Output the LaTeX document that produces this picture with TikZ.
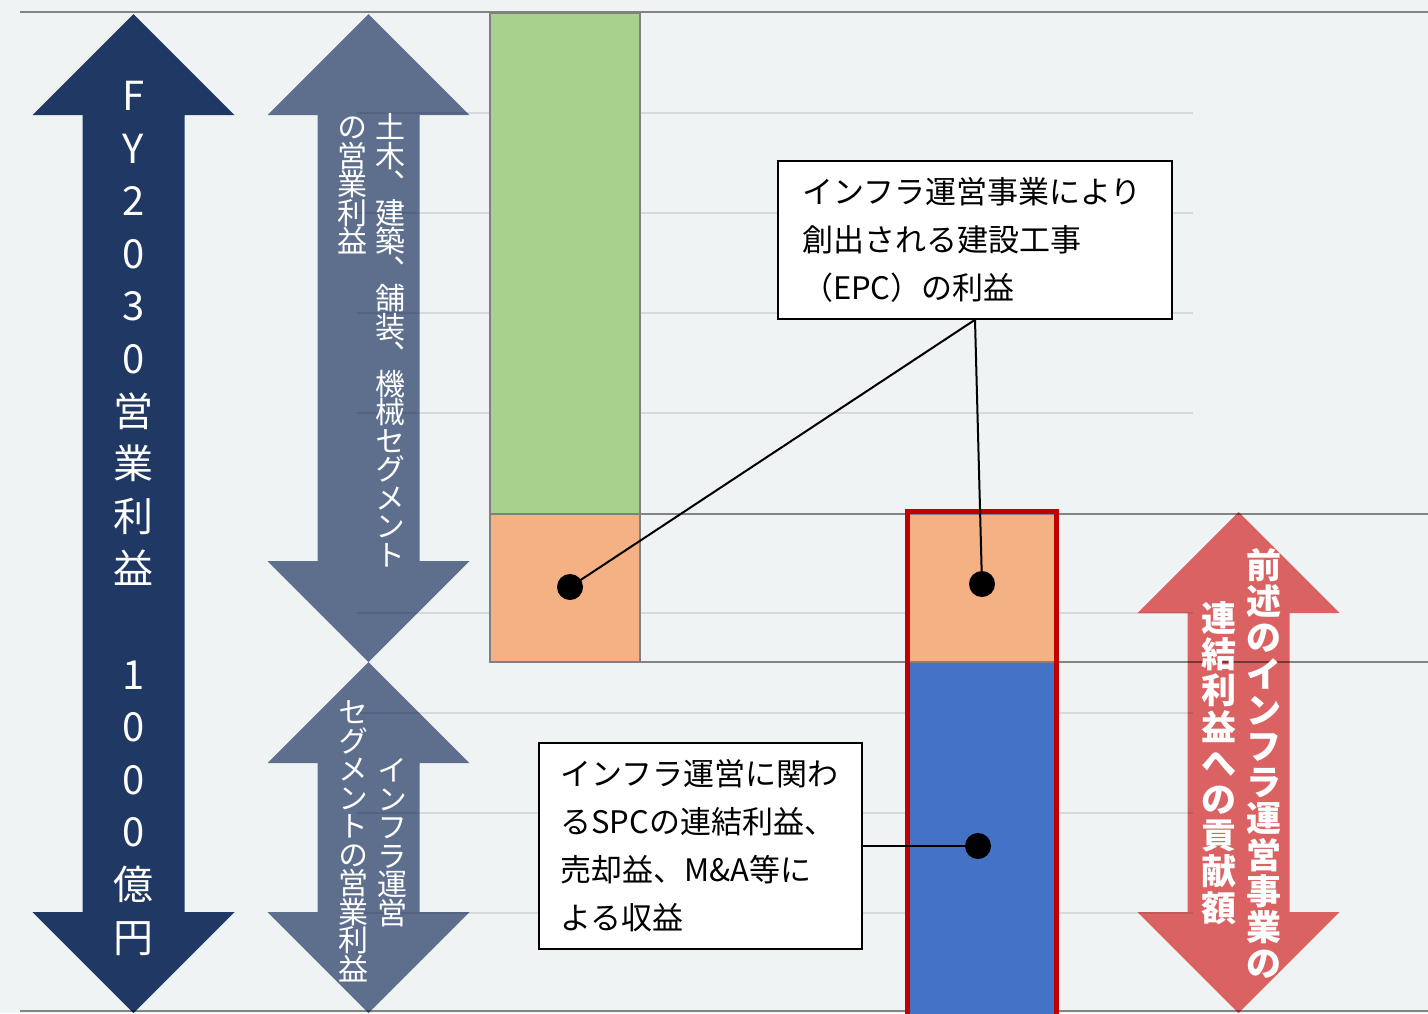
\documentclass[tikz,border=0pt]{standalone}
\usepackage{fontspec}
\usepackage{xcolor}
\usetikzlibrary{matrix,
	positioning,
	shapes.geometric}
\newfontfamily\jpfont{Noto Sans CJK JP}
\newfontfamily\tatefont{Noto Sans CJK JP}[RawFeature=+vert]
\definecolor{bgcol}{HTML}{EFF3F4}
\definecolor{navy}{HTML}{203864}
\definecolor{slate}{HTML}{5E6F8E}
\definecolor{rosered}{HTML}{DA6262}
\definecolor{epcorange}{HTML}{F4B183}
\definecolor{civgreen}{HTML}{A9D18E}
\definecolor{spcblue}{HTML}{4472C4}
\definecolor{framered}{HTML}{C00000}
\tikzstyle{tate}=[matrix of nodes, inner sep=0pt, row sep=0pt, anchor=north,
		nodes in empty cells, nodes={inner sep=0pt, anchor=center, text=white}]
\tikzstyle{tatefy}=[tate, nodes={font=\jpfont\fontsize{40}{48}\selectfont,
		text height=41.5pt, text depth=11.1pt}]
\tikzstyle{tatesm}=[tate, nodes={font=\tatefont\fontsize{30}{36}\selectfont,
		text height=25.65pt, text depth=2.85pt}]
\tikzstyle{tatebf}=[tate, nodes={font=\jpfont\bfseries\fontsize{35}{42}\selectfont,
		text height=31.4pt, text depth=4.8pt}]
\tikzstyle{gridline}=[black, opacity=0.1, line width=2pt]
\tikzstyle{darkline}=[black, opacity=0.45, line width=1.5pt]
\tikzstyle{bar}=[draw=gray, line width=1.5pt]
\tikzstyle{note}=[draw=black, line width=1.5pt, fill=white, inner xsep=24pt,
		inner ysep=0pt, align=left, font=\jpfont\fontsize{31}{48}\selectfont]
\tikzstyle{dot}=[circle, fill=black, inner sep=0pt, minimum size=26pt]
\tikzstyle{lead}=[draw=black, line width=2pt]
% style, centre x, top tip, bottom tip
\newcommand{\dblarrow}[4]{\fill[#1] (#2,#3) -- ++(101,101) -- ++(-50,0) -- (#2+51,#4-101)
	-- ++(50,0) -- (#2,#4) -- ++(-101,-101) -- ++(50,0) -- (#2-51,#3+101) -- ++(-50,0) -- cycle;}

\begin{document}
\begin{tikzpicture}[x=1pt, y=-1pt]
        \useasboundingbox (0,0) rectangle (1428,1013);
        \fill[bgcol] (0,0) rectangle (1428,1013);

        % arrows
        \dblarrow{navy}{133.5}{14}{1013}
        \dblarrow{slate}{368.5}{14}{662}
        \dblarrow{slate}{368.5}{662}{1013}
        \dblarrow{rosered}{1238.5}{512}{1013}

        % grid
        \foreach \y in {113,213,313,413,613,713,813,913}
            \draw[gridline] (357,\y) -- (1193,\y);
        \draw[darkline] (20,12) -- (1428,12);
        \draw[darkline] (640,514) -- (1428,514);
        \draw[darkline] (640,662) -- (1428,662);
        \draw[darkline] (20,1011) -- (1428,1011);

        % bars
        \draw[bar, fill=civgreen] (490,13) rectangle (640,514);
        \draw[bar, fill=epcorange] (490,514) rectangle (640,662);
        \draw[bar, fill=epcorange] (907,514) rectangle (1057,662);
        \draw[bar, fill=spcblue] (907,662) rectangle (1057,1016);
        \draw[framered, line width=5pt] (907.5,511.5) rectangle (1056.5,1016);

        % callouts
        \node[note, text width=346pt, minimum height=158pt] (epc) at (975,240)
            {インフラ運営事業により\\創出される建設工事\\（EPC）の利益};
        \node[note, text width=280pt, inner xsep=21.5pt, minimum height=206pt] (spc) at (700.5,846)
            {インフラ運営に関わ\\るSPCの連結利益、\\売却益、M\&A等に\\よる収益};
        \node[dot] (epcdot) at (570,587) {};
        \node[dot] (infdot) at (982,584) {};
        \node[dot] (spcdot) at (978,846) {};
        \draw[lead] (epc.south) -- (epcdot.center);
        \draw[lead] (epc.south) -- (infdot.center);
        \draw[lead] (spc.east) -- (spcdot.center);

        % vertical labels
        \matrix (fy) [tatefy] at (133.5,68.7) {
            F \\ Y \\ 2 \\ 0 \\ 3 \\ 0 \\ 営 \\ 業 \\ 利 \\ 益 \\ \\ 1 \\ 0 \\ 0 \\ 0 \\ 億 \\ 円 \\
        };
        \matrix (civa) [tatesm] at (390,112.75) {
            土 \\ 木 \\ 、 \\ 建 \\ 築 \\ 、 \\ 舗 \\ 装 \\ 、 \\ 機 \\ 械 \\ セ \\ グ \\ メ \\ ン \\ ト \\
        };
        \matrix (civb) [tatesm] at (352,112.75) {
            の \\ 営 \\ 業 \\ 利 \\ 益 \\
        };
        \matrix (infa) [tatesm] at (392,755.75) {
            イ \\ ン \\ フ \\ ラ \\ 運 \\ 営 \\
        };
        \matrix (infb) [tatesm] at (353,697.75) {
            セ \\ グ \\ メ \\ ン \\ ト \\ の \\ 営 \\ 業 \\ 利 \\ 益 \\
        };
        \matrix (cona) [tatebf] at (1264,546.9) {
            前 \\ 述 \\ の \\ イ \\ ン \\ フ \\ ラ \\ 運 \\ 営 \\ 事 \\ 業 \\ の \\
        };
        \matrix (conb) [tatebf] at (1219,599.9) {
            連 \\ 結 \\ 利 \\ 益 \\ へ \\ の \\ 貢 \\ 献 \\ 額 \\
        };
    \end{tikzpicture}
\end{document}
